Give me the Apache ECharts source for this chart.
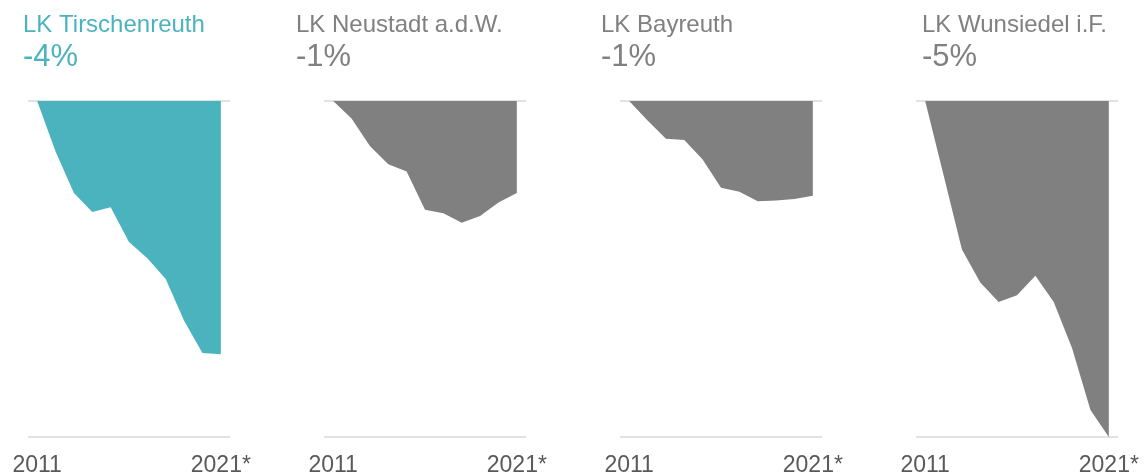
<!DOCTYPE html>
<html lang="de">

<head>
  <meta charset="UTF-8">
  <title>Landkreise 2011-2021</title>
  <script src="https://cdn.jsdelivr.net/npm/echarts@6/dist/echarts.min.js"></script>
  <style>
    * {
      padding: 0;
      margin: 0;
    }

    #box {
      width: 1144px;
      height: 474px;
    }
  </style>
</head>

<body>
  <div id="box"></div>
  <script>
    // Jahre (x-Achse)
    var years = ['2011', '2012', '2013', '2014', '2015', '2016', '2017', '2018', '2019', '2020', '2021*']
    // Landkreise + Veraenderung in % ggü. 2011
    var names = ['LK Tirschenreuth', 'LK Neustadt a.d.W.', 'LK Bayreuth', 'LK Wunsiedel i.F.']
    var changeLabels = ['-4%', '-1%', '-1%', '-5%']
    var tirschenreuth = [0, -0.75, -1.37, -1.65, -1.58, -2.10, -2.34, -2.65, -3.27, -3.75, -3.77]
    var neustadt = [0, -0.26, -0.67, -0.94, -1.05, -1.62, -1.67, -1.81, -1.71, -1.51, -1.37]
    var bayreuth = [0, -0.29, -0.56, -0.58, -0.87, -1.29, -1.35, -1.49, -1.48, -1.46, -1.41]
    var wunsiedel = [0, -1.10, -2.21, -2.70, -2.99, -2.89, -2.60, -2.99, -3.68, -4.60, -5.00]

    var allData = [tirschenreuth, neustadt, bayreuth, wunsiedel]
    var colors = ['#4bb3be', '#808080', '#808080', '#808080']
    var gridLeft = [28, 324, 620, 916]
    var titleX = [23, 296, 601, 922]
    var font = 'Arial, "Liberation Sans", sans-serif'

    var grids = [], xAxes = [], yAxes = [], series = [], graphics = []
    for (let i = 0; i < 4; i++) {
      grids.push({ left: gridLeft[i], top: 101, width: 202, height: 336, outerBoundsMode: 'none', containLabel: false })
      xAxes.push({
        type: 'category',
        gridIndex: i,
        data: years,
        boundaryGap: true,
        axisLine: { show: false },
        axisTick: { show: false },
        axisLabel: {
          interval: function (idx) { return idx === 0 || idx === years.length - 1 },
          hideOverlap: false,
          margin: 17,
          fontSize: 23,
          fontFamily: font,
          color: '#595959'
        }
      })
      yAxes.push({
        type: 'value',
        gridIndex: i,
        min: -5,
        max: 0,
        interval: 5,
        axisLabel: { show: false },
        axisLine: { show: false },
        axisTick: { show: false },
        splitLine: { show: true, lineStyle: { color: '#d9d9d9', width: 1.5 } }
      })
      series.push({
        name: names[i],
        type: 'line',
        xAxisIndex: i,
        yAxisIndex: i,
        data: allData[i],
        symbol: 'none',
        clip: false,
        lineStyle: { width: 0 },
        areaStyle: { color: colors[i], opacity: 1 }
      })
      graphics.push({
        type: 'text', left: titleX[i], top: 13,
        style: { text: names[i], font: '24px ' + font, fill: colors[i] }
      })
      graphics.push({
        type: 'text', left: titleX[i], top: 42,
        style: { text: changeLabels[i], font: '31px ' + font, fill: colors[i] }
      })
    }

    var mCharts = echarts.init(document.getElementById('box'))
    mCharts.setOption({
      animation: false,
      grid: grids,
      xAxis: xAxes,
      yAxis: yAxes,
      series: series,
      graphic: graphics
    })
  </script>
</body>

</html>
